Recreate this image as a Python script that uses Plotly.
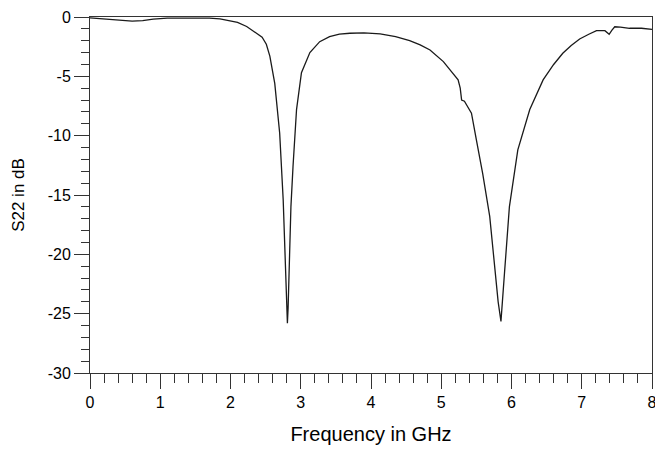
import plotly.graph_objects as go

freq_ghz = [0, 0.15, 0.3, 0.45, 0.6, 0.75, 0.9, 1.1, 1.4, 1.7, 1.85, 2.0, 2.1, 2.23, 2.37, 2.45, 2.51,
            2.56, 2.63, 2.70, 2.75, 2.77, 2.79, 2.81, 2.82, 2.84, 2.86, 2.89, 2.94, 3.01, 3.13, 3.27,
            3.41, 3.55, 3.70, 3.9, 4.13, 4.35, 4.55, 4.7, 4.84, 5.03, 5.17, 5.24, 5.27, 5.29, 5.33,
            5.43, 5.50, 5.59, 5.69, 5.76, 5.81, 5.85, 5.88, 5.90, 5.97, 6.09, 6.26, 6.45, 6.6, 6.73,
            6.85, 6.97, 7.1, 7.21, 7.33, 7.36, 7.39, 7.43, 7.47, 7.55, 7.68, 7.85, 8.0]
s22_db = [-0.08, -0.15, -0.25, -0.33, -0.35, -0.3, -0.18, -0.1, -0.08, -0.1, -0.15, -0.3, -0.45,
          -0.8, -1.37, -1.7, -2.3,
          -3.3, -5.6, -9.8, -15.4, -19.6, -23.5, -25.8, -24.5, -19.6, -16, -12.6, -7.8, -4.7, -3.0,
          -2.08, -1.66, -1.45, -1.37, -1.33, -1.43, -1.65, -2.0, -2.35, -2.78, -3.76, -4.74, -5.3,
          -6.0, -7.0, -7.1, -8.1, -10.35, -13.2, -16.8, -21, -24, -25.65, -23.5, -21.6, -16, -11.2,
          -7.8, -5.3, -4.0, -3.06, -2.4, -1.85, -1.45, -1.15, -1.15, -1.3, -1.46, -1.1, -0.82,
          -0.85, -0.95, -0.95, -1.04]

x_ticks = [0, 1, 2, 3, 4, 5, 6, 7, 8]
y_ticks = [0, -5, -10, -15, -20, -25, -30]

fig = go.Figure()
fig.add_trace(go.Scatter(x=freq_ghz, y=s22_db, mode="lines",
                         line=dict(color="#1a1a1a", width=1.3), showlegend=False))

tick_font = dict(family="Liberation Sans, Arial", size=16, color="#000")
axis_common = dict(showgrid=False, zeroline=False, showline=True, mirror=True,
                   linecolor="#333", linewidth=1, ticks="outside", ticklen=15,
                   tickcolor="#333", tickwidth=1.3, tickfont=tick_font, automargin=False)

fig.update_layout(
    width=655, height=450,
    margin=dict(l=90, r=3, t=17, b=77),
    plot_bgcolor="white", paper_bgcolor="white",
    xaxis=dict(range=[0, 8], tickvals=x_ticks, ticktext=[str(v) for v in x_ticks],
               ticklabeloverflow="allow",
               minor=dict(dtick=0.2, ticks="outside", ticklen=9, tickcolor="#333", tickwidth=1.3),
               title=dict(text="Frequency in GHz",
                          font=dict(family="Liberation Sans, Arial", size=20, color="#000"),
                          standoff=16), **axis_common),
    yaxis=dict(range=[-30, 0], tickvals=y_ticks, ticktext=[str(v) for v in y_ticks],
               minor=dict(dtick=1, ticks="outside", ticklen=8, tickcolor="#333", tickwidth=1.3),
               title=dict(text="S22 in dB",
                          font=dict(family="Liberation Sans, Arial", size=17, color="#000"),
                          standoff=18), **axis_common),
)

fig.write_html("out.html")
